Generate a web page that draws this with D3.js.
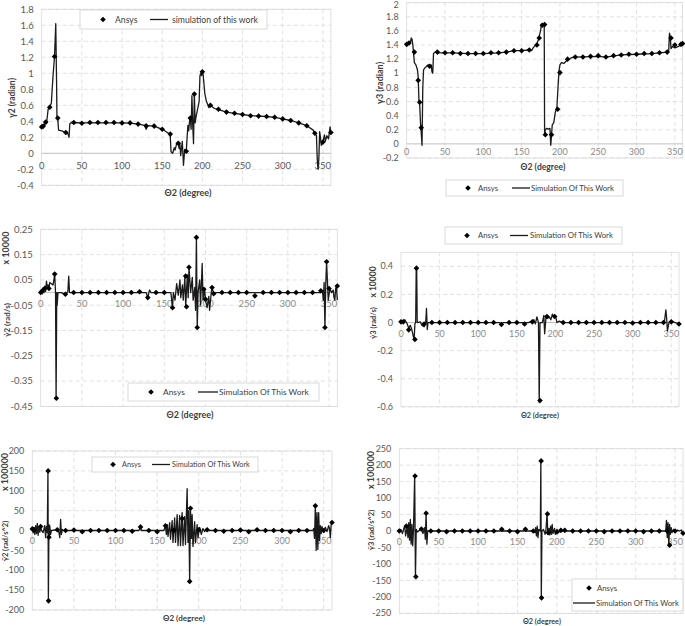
<!DOCTYPE html>
<html><head><meta charset="utf-8">
<script src="https://cdn.jsdelivr.net/npm/d3@7"></script>
<style>
body{margin:0;background:#fff}
svg{display:block}
text{font-family:Lato,"Liberation Sans",Arial,sans-serif}
</style>
</head><body>
<svg id="chart" width="685" height="626"></svg>
<script>
// ---------------- DATA ----------------
const angleTicks = [0,50,100,150,200,250,300,350];
const gamma2Ticks = [-0.4,-0.2,0,0.2,0.4,0.6,0.8,1,1.2,1.4,1.6,1.8];
const gamma3Ticks = [-0.2,0,0.2,0.4,0.6,0.8,1,1.2,1.4,1.6,1.8,2];
const omega2Ticks = [-0.45,-0.35,-0.25,-0.15,-0.05,0.05,0.15,0.25];
const omega3Ticks = [-0.6,-0.4,-0.2,0,0.2,0.4];
const alpha2Ticks = [-200,-150,-100,-50,0,50,100,150,200];
const alpha3Ticks = [-250,-200,-150,-100,-50,0,50,100,150,200,250];

// γ2 (radian)
const gamma2Ansys = [[0,0.33],[2,0.34],[5,0.39],[10,0.575],[16,1.21],[20,0.44],[30,0.26],[40,0.385],[50,0.375],[60,0.385],[70,0.385],[80,0.385],[90,0.385],[100,0.38],[110,0.38],[120,0.365],[130,0.345],[140,0.34],[150,0.30],[160,0.24],[170,0.125],[180,0.025],[185,0.44],[190,0.74],[200,1.02],[210,0.60],[220,0.55],[230,0.515],[240,0.50],[250,0.485],[260,0.47],[270,0.465],[280,0.46],[290,0.45],[300,0.43],[310,0.41],[320,0.38],[330,0.345],[340,0.25],[350,0.14],[360,0.26]];
const gamma2Sim = [[0,0.33],[2,0.34],[4,0.37],[5,0.40],[6,0.37],[8,0.55],[10,0.58],[12,0.63],[14,0.95],[16,1.22],[17.5,1.62],[18.5,0.9],[19,0.45],[20,0.43],[21,0.29],[25,0.28],[30,0.26],[33,0.24],[34,0.20],[35,0.37],[37,0.385],[50,0.38],[100,0.38],[110,0.378],[120,0.365],[128,0.35],[130,0.30],[132,0.345],[140,0.34],[150,0.30],[155,0.27],[159,0.24],[160,0.22],[161,0.02],[163,0.0],[165,0.07],[166,0.04],[168,0.12],[170,0.13],[171,0.06],[172,0.12],[173,-0.03],[175,0.15],[176.5,-0.15],[178,0.05],[180,0.03],[181,0.2],[182,0.35],[183,0.28],[184,0.40],[185,0.44],[186,0.30],[187,0.72],[188,0.35],[189,0.12],[190,0.75],[191,0.38],[192,0.45],[194,0.55],[196,0.65],[197,0.97],[198,1.0],[199,0.97],[200,1.02],[201,0.98],[203,0.75],[205,0.65],[207,0.6],[208,0.57],[210,0.6],[215,0.56],[220,0.545],[230,0.515],[240,0.50],[250,0.485],[260,0.47],[270,0.465],[280,0.46],[290,0.45],[300,0.43],[310,0.41],[320,0.38],[330,0.345],[338,0.29],[340,0.25],[342,0.22],[343,-0.07],[344,-0.2],[345,-0.07],[346,0.27],[347,0.2],[348,0.1],[350,0.14],[352,0.23],[353,0.15],[355,0.22],[357,0.18],[359,0.33],[360,0.24]];

// γ3 (radian)
const gamma3Ansys = [[0,1.41],[3,1.43],[10,1.30],[15,0.90],[17,0.59],[19,0.23],[30,1.10],[40,1.30],[50,1.29],[60,1.29],[70,1.28],[80,1.28],[90,1.28],[100,1.28],[110,1.29],[120,1.29],[130,1.30],[140,1.32],[150,1.32],[160,1.33],[170,1.40],[173,1.50],[177,1.68],[180,1.69],[181,0.13],[189,0.13],[197,0.49],[200,1.01],[210,1.20],[220,1.23],[230,1.23],[240,1.24],[250,1.25],[260,1.23],[270,1.25],[280,1.26],[290,1.27],[300,1.27],[310,1.28],[320,1.28],[330,1.29],[340,1.30],[345,1.50],[350,1.40],[358,1.41],[360,1.42]];
const gamma3Sim = [[0,1.40],[3,1.42],[5,1.45],[6,1.50],[7,1.48],[8,1.40],[10,1.15],[12,1.12],[14,1.05],[15,0.95],[16,0.60],[17,0.55],[18,0.30],[19,0.15],[20,-0.02],[21,0.8],[22,1.05],[24,1.08],[26,1.10],[28,1.12],[30,1.10],[32,1.12],[33,1.02],[34,1.00],[35,1.28],[37,1.30],[40,1.29],[60,1.29],[80,1.28],[100,1.28],[120,1.29],[130,1.30],[140,1.32],[150,1.32],[160,1.33],[163,1.32],[165,1.36],[170,1.42],[172,1.48],[175,1.62],[176,1.70],[178,1.68],[179.5,1.70],[180,0.15],[181,0.20],[183,0.22],[185,0.21],[187,0.22],[188,-0.02],[189,0.12],[190,0.27],[192,0.30],[194,0.45],[196,0.50],[198,0.90],[199,1.05],[200,1.12],[202,1.15],[205,1.14],[207,1.16],[210,1.19],[215,1.22],[220,1.23],[250,1.24],[260,1.23],[280,1.26],[300,1.27],[320,1.28],[340,1.30],[342,1.32],[343,1.57],[344,1.52],[345,1.35],[347,1.38],[350,1.36],[355,1.38],[358,1.42],[360,1.42]];

// γ̇2 (rad/s) x 10000
const omega2Ansys = [[0,0.0],[2,0.007],[5,0.016],[10,0.016],[17,0.073],[19,-0.418],[30,-0.007],[40,0],[50,0],[60,0],[70,0],[80,0],[90,0],[100,0],[110,0],[120,0.003],[130,-0.02],[140,0],[150,0],[160,-0.06],[176,0.065],[177,-0.056],[180,0.10],[189,0.218],[190,-0.138],[198,0.013],[200,-0.026],[208,0.02],[210,-0.005],[220,0],[230,0],[240,0],[250,0],[260,-0.013],[270,0],[280,0],[290,0],[300,0],[310,0],[320,0],[330,0],[340,0.007],[345,-0.138],[347,0.122],[350,0.016],[360,0.026]];
const omega2Sim = [[0,0],[1,0.01],[2,-0.005],[3,0.02],[4,0.0],[5,0.025],[6,0.005],[7,0.045],[8,0.02],[9,0.03],[10,0.015],[11,0.04],[13,0.035],[15,0.03],[17,0.072],[18,0.0],[18.7,-0.42],[19.5,0.0],[20,-0.05],[21,0.0],[25,0.0],[28,-0.005],[30,-0.007],[32,0],[33,0.005],[34,0.065],[35,0.0],[40,0],[125,0],[128,0.0],[130,-0.02],[132,0.01],[134,0],[158,0],[160,-0.06],[161,0],[163,-0.03],[165,0.035],[167,-0.01],[169,0.05],[170,-0.02],[172,0.03],[173,-0.03],[175,0.06],[176,-0.055],[178,0.07],[179,-0.02],[180,0.10],[182,0.0],[184,0.06],[185,-0.03],[187,0.02],[188,-0.07],[189,0.218],[190,-0.138],[191,0.0],[193,0.05],[194,-0.05],[196,0.115],[197,-0.03],[199,0.013],[200,-0.03],[202,-0.06],[204,-0.015],[205,-0.07],[207,0.0],[208,0.02],[210,-0.005],[212,0],[340,0],[342,0.005],[343,-0.03],[344,0.04],[345,-0.14],[346,0.035],[347,0.122],[349,-0.03],[351,0.015],[353,0.0],[355,0.01],[356,-0.02],[357,-0.03],[358,0.015],[359,0.025],[360,-0.03]];

// γ̇3 (rad/s) x 10000
const omega3Ansys = [[0,0.005],[3,0.005],[10,-0.052],[18,-0.12],[20,0.387],[30,-0.01],[40,0],[50,0],[60,0],[70,0],[80,0],[90,0],[100,0],[110,0],[120,0],[130,-0.014],[140,0],[150,0],[160,-0.01],[170,0.005],[180,-0.555],[189,0.043],[199,0.043],[210,0],[220,0],[230,0],[240,0],[250,0],[260,0],[270,0],[280,0],[290,0],[300,-0.003],[310,0],[320,0],[330,0],[340,0.0],[350,0.005],[360,-0.01]];
const omega3Sim = [[0,0.005],[3,0.005],[5,0.02],[7,0.0],[8,-0.01],[10,-0.04],[12,-0.02],[14,-0.05],[16,-0.1],[17,-0.12],[18,-0.01],[19,0.0],[19.7,0.387],[20.3,0.387],[21,0.0],[25,0.005],[27,-0.02],[30,-0.03],[32,0.0],[33,0.1],[34,-0.05],[35,0.0],[128,0],[130,-0.015],[132,0],[165,0],[170,0.01],[172,0.02],[174,-0.01],[176,0.04],[178,0.0],[179,-0.57],[180,0.0],[183,0.0],[185,0.05],[186,-0.08],[188,0.05],[190,0.03],[192,0.04],[194,0.02],[196,0.06],[198,0.04],[200,0.05],[202,0.0],[205,0.01],[210,0],[341,0.0],[343,0.09],[344,0.03],[345,-0.06],[347,0.0],[350,0.01],[355,0.0],[360,-0.01]];

// γ̈2 (rad/s^2) x 100000
const alpha2Ansys = [[0,4],[2,2],[10,10],[19,150],[19.5,-177],[20,-17],[30,2],[40,0],[50,1],[60,-3],[70,0],[80,0],[90,0],[100,0],[110,0],[120,-2],[130,9],[140,0],[150,-3],[160,12],[170,0],[180,30],[189,-128],[190,56],[200,2],[210,2],[220,0],[230,-2],[240,0],[250,1],[260,-3],[270,2],[280,0],[290,0],[300,0],[310,-3],[320,0],[330,0],[340,62],[350,0],[360,20]];
const alpha2Sim = [[0,5],[1,-6],[2,8],[3,-10],[4,12],[5,-8],[6,18],[7,-12],[8,10],[9,-4],[10,10],[11,0],[13,-5],[15,12],[16,-18],[17,10],[18,-5],[18.8,150],[19.3,-177],[20,15],[20.5,-17],[21,12],[22,-10],[23,0],[30,2],[32,-5],[33,-18],[34,28],[35,-10],[36,3],[37,0],[128,0],[130,9],[131,0],[158,0],[160,12],[161,-10],[162,15],[163,-15],[165,20],[166,-22],[168,25],[169,-30],[171,32],[172,-30],[174,40],[175,-38],[177,38],[178,-38],[180,45],[181,-38],[183,35],[184,-35],[186,105],[187,-30],[188,50],[189,-128],[190,56],[191,-20],[192,40],[193,-40],[195,22],[196,-30],[198,15],[199,-18],[201,8],[203,-10],[205,5],[207,-3],[209,3],[211,0],[337,0],[338,5],[339,-20],[340,62],[341,-50],[342,45],[343,-48],[344,45],[345,-25],[346,12],[347,-8],[348,10],[350,-5],[352,8],[354,-3],[356,12],[357,5],[358,-18],[359,15],[360,20]];

// γ̈3 (rad/s^2) x 100000
const alpha3Ansys = [[0,0],[9,15],[20,167],[21,-139],[28,6],[34,54],[40,0],[50,0],[60,-2],[70,0],[80,0],[90,0],[100,0],[110,0],[120,0],[130,5],[140,0],[150,-2],[160,5],[170,0],[180,213],[180.5,-203],[188,52],[189,-5],[200,-3],[205,2],[210,2],[220,0],[230,0],[240,0],[250,0],[260,-2],[270,0],[280,0],[290,0],[300,0],[310,-2],[320,0],[330,0],[340,0],[343,-43],[350,0],[360,-7]];
const alpha3Sim = [[0,0],[2,5],[4,-8],[6,10],[7,15],[8,-15],[10,12],[11,-20],[12,25],[13,-28],[14,35],[15,-40],[16,20],[17,-45],[18,5],[19.5,167],[20.5,-139],[21.5,5],[23,-3],[26,3],[28,6],[30,-8],[32,10],[33,-25],[34,54],[35,-40],[36,0],[40,0],[128,0],[130,5],[131,0],[158,0],[160,5],[161,0],[170,0],[172,-5],[173,10],[174,-15],[175,15],[176,-20],[177,5],[179,0],[179.6,213],[180.2,-203],[181,0],[183,5],[185,-10],[186,0],[187.5,52],[188.5,-10],[190,8],[191,-12],[192,15],[193,-10],[194,20],[195,-8],[197,8],[198,-10],[200,5],[202,-5],[204,3],[206,0],[338,0],[339,32],[340,-20],[341,25],[342,-43],[343,20],[344,-10],[345,10],[346,-5],[348,5],[350,-3],[353,3],[355,0],[358,3],[359,-5],[360,-7]];

// ---------------- LAYOUT ----------------
const panels = [
 {box:{l:41.7,r:330.9,t:9.3,b:185.3}, yDomain:[-0.4,1.8], yTicks:gamma2Ticks, ansys:gamma2Ansys, sim:gamma2Sim,
  tickSize:9.5, xLabOff:12, xLabColor:'#595959',
  xTitle:{text:'Θ2 (degree)', x:188, y:193, size:10, w:47},
  yTitles:[{text:'γ2 (radian)', x:12, y:98, size:8.5}],
  legend:{rect:[80,10,267,29], size:10, w:86, rows:[{type:'m',x:103,y:19.5,tx:115},{type:'l',x1:150,x2:168,y:19.5,tx:172}], simText:'simulation of this work'}},
 {box:{l:406.7,r:682.5,t:2.7,b:158}, yDomain:[-0.2,2], yTicks:gamma3Ticks, ansys:gamma3Ansys, sim:gamma3Sim,
  tickSize:9, xLabOff:8, xLabColor:'#8c8c8c',
  xTitle:{text:'Θ2 (degree)', x:543, y:167, size:9.5, w:45},
  yTitles:[{text:'γ3 (radian)', x:380, y:83, size:9}],
  legend:{rect:[446,180,623,196], size:9, w:83, rows:[{type:'m',x:468,y:188,tx:478},{type:'l',x1:512,x2:530,y:188,tx:531}], simText:'Simulation Of This Work'}},
 {box:{l:40.7,r:337.3,t:229.3,b:406.4}, yDomain:[-0.45,0.25], yTicks:omega2Ticks, ansys:omega2Ansys, sim:omega2Sim,
  tickSize:9.5, xLabOff:11.5, xLabColor:'#8c8c8c',
  xTitle:{text:'Θ2 (degree)', x:190, y:415, size:10, w:47},
  yTitles:[{text:'x 10000', x:6, y:248, size:9},{text:'γ̇2 (rad/s)', x:7, y:320, size:8}],
  legend:{rect:[128,383,319,401], size:9.5, w:90, rows:[{type:'m',x:151,y:392,tx:163},{type:'l',x1:198,x2:218,y:392,tx:219}], simText:'Simulation Of This Work'}},
 {box:{l:401,r:679,t:252.3,b:406.8}, yDomain:[-0.6,0.5], yTicks:omega3Ticks, ansys:omega3Ansys, sim:omega3Sim,
  tickSize:9, xLabOff:11.3, xLabColor:'#8c8c8c',
  xTitle:{text:'Θ2 (degree)', x:540, y:415, size:8, w:38},
  yTitles:[{text:'x 10000', x:373, y:282, size:8.5},{text:'γ̇3 (rad/s)', x:373, y:323, size:7.5}],
  legend:{rect:[445,227,622,244], size:9, w:83, rows:[{type:'m',x:467,y:235.5,tx:478},{type:'l',x1:510,x2:528,y:235.5,tx:530}], simText:'Simulation Of This Work'}},
 {box:{l:32.3,r:332,t:451,b:610}, yDomain:[-200,200], yTicks:alpha2Ticks, ansys:alpha2Ansys, sim:alpha2Sim,
  tickSize:9, xLabOff:10.5, xLabColor:'#8c8c8c',
  xTitle:{text:'Θ2 (degree)', x:184, y:618, size:9.5, w:42},
  yTitles:[{text:'x 100000', x:5, y:472, size:9},{text:'γ̈2 (rad/s^2)', x:5, y:541, size:7.5}],
  legend:{rect:[92,457,258,472], size:9, w:78, rows:[{type:'m',x:113,y:464.5,tx:122},{type:'l',x1:152,x2:170,y:464.5,tx:172}], simText:'Simulation Of This Work'}},
 {box:{l:399.3,r:683,t:448.7,b:613.3}, yDomain:[-250,250], yTicks:alpha3Ticks, ansys:alpha3Ansys, sim:alpha3Sim,
  tickSize:9, xLabOff:11.3, xLabColor:'#8c8c8c',
  xTitle:{text:'Θ2 (degree)', x:542, y:621, size:8, w:38},
  yTitles:[{text:'x 100000', x:371, y:470, size:9},{text:'γ̈3 (rad/s^2)', x:371, y:530, size:7.5}],
  legend:{rect:[572,579,683,611], size:9, w:83, rows:[{type:'m',x:589,y:588,tx:597},{type:'l',x1:573,x2:595,y:603,tx:596}], simText:'Simulation Of This Work'}}
];

// ---------------- DRAW ----------------
const svg = d3.select('#chart');
const fmt = v => String(+v.toFixed(2));
const diamond = d3.symbol().type(d3.symbolDiamond2 || d3.symbolDiamond).size(20);
// shrink a text's font so its width matches the target width
function fitWidth(sel, size, target) {
  const w = sel.node().getComputedTextLength();
  if (w > 0) sel.attr('font-size', Math.min(size * 1.15, size * target / w));
}

panels.forEach(p => {
  const x = d3.scaleLinear().domain([0,360]).range([p.box.l,p.box.r]);
  const y = d3.scaleLinear().domain(p.yDomain).range([p.box.b,p.box.t]);
  const g = svg.append('g');

  // grid
  g.append('g').selectAll('line').data(p.yTicks.filter(v=>Math.abs(v)>1e-9)).join('line')
    .attr('x1',p.box.l).attr('x2',p.box.r).attr('y1',d=>y(d)).attr('y2',d=>y(d))
    .attr('stroke','#d9d9d9').attr('stroke-width',0.8).attr('stroke-dasharray','4,3');
  g.append('g').selectAll('line').data(angleTicks.filter(v=>v>0)).join('line')
    .attr('x1',d=>x(d)).attr('x2',d=>x(d)).attr('y1',p.box.t).attr('y2',p.box.b)
    .attr('stroke','#d9d9d9').attr('stroke-width',0.8).attr('stroke-dasharray','4,3');
  // frame
  g.append('rect').attr('x',p.box.l).attr('y',p.box.t).attr('width',p.box.r-p.box.l).attr('height',p.box.b-p.box.t)
    .attr('fill','none').attr('stroke','#d9d9d9').attr('stroke-width',0.8);
  // zero axis
  g.append('line').attr('x1',p.box.l).attr('x2',p.box.r).attr('y1',y(0)).attr('y2',y(0))
    .attr('stroke','#bfbfbf').attr('stroke-width',1);

  // y tick labels
  g.append('g').selectAll('text').data(p.yTicks).join('text')
    .attr('x',p.box.l-8).attr('y',d=>Math.max(y(d), 5)).attr('dy','0.35em').attr('text-anchor','end')
    .attr('font-size',p.tickSize).attr('fill','#595959').text(fmt);
  // x tick labels at zero line
  g.append('g').selectAll('text').data(angleTicks).join('text')
    .attr('x',d=>x(d)).attr('y',y(0)+p.xLabOff).attr('dy','0.35em').attr('text-anchor','middle')
    .attr('font-size',p.tickSize).attr('fill',p.xLabColor).text(d=>d);

  // simulation line
  g.append('path').datum(p.sim)
    .attr('d',d3.line().x(d=>x(d[0])).y(d=>y(d[1])))
    .attr('fill','none').attr('stroke','#1a1a1a').attr('stroke-width',1.3).attr('stroke-linejoin','round');
  // ansys markers
  g.append('g').selectAll('path').data(p.ansys).join('path')
    .attr('d',diamond).attr('transform',d=>`translate(${x(d[0])},${y(d[1])})`).attr('fill','#000');

  // titles
  const xt = g.append('text').attr('x',p.xTitle.x).attr('y',p.xTitle.y).attr('dy','0.35em').attr('text-anchor','middle')
    .attr('font-size',p.xTitle.size).attr('font-weight','bold').attr('fill','#404040').text(p.xTitle.text);
  fitWidth(xt, p.xTitle.size, p.xTitle.w);
  p.yTitles.forEach(t => {
    g.append('text').attr('transform',`translate(${t.x},${t.y}) rotate(-90)`).attr('dy','0.35em')
      .attr('text-anchor','middle').attr('font-size',t.size).attr('font-weight','bold').attr('fill','#404040').text(t.text);
  });

  // legend
  const L = p.legend, [lx1,ly1,lx2,ly2] = L.rect;
  g.append('rect').attr('x',lx1).attr('y',ly1).attr('width',lx2-lx1).attr('height',ly2-ly1)
    .attr('fill','#fff').attr('stroke','#d9d9d9').attr('stroke-width',1);
  let legSize = L.size;
  L.rows.forEach(r => {
    if (r.type==='l') {
      g.append('line').attr('x1',r.x1).attr('x2',r.x2).attr('y1',r.y).attr('y2',r.y).attr('stroke','#1a1a1a').attr('stroke-width',1.3);
      const t = g.append('text').attr('x',r.tx).attr('y',r.y).attr('dy','0.35em').attr('font-size',L.size).attr('fill','#404040').text(L.simText);
      fitWidth(t, L.size, L.w);
      legSize = +t.attr('font-size');
    }
  });
  L.rows.forEach(r => {
    if (r.type==='m') {
      g.append('path').attr('d',diamond).attr('transform',`translate(${r.x},${r.y})`).attr('fill','#000');
      g.append('text').attr('x',r.tx).attr('y',r.y).attr('dy','0.35em').attr('font-size',legSize).attr('fill','#404040').text('Ansys');
    }
  });
});
</script>
</body></html>
